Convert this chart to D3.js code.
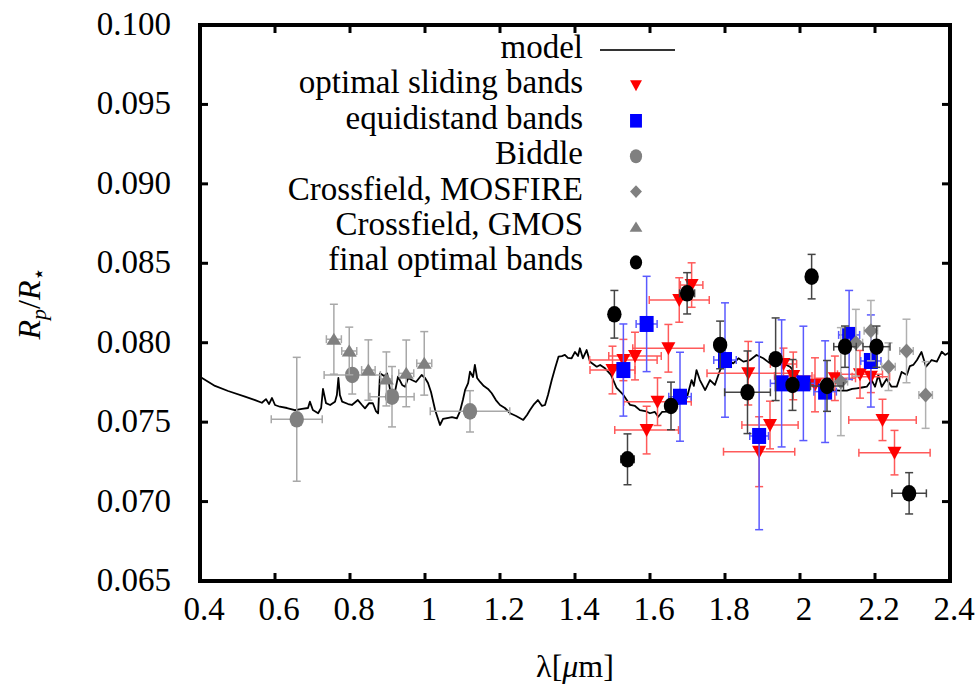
<!DOCTYPE html>
<html><head><meta charset="utf-8">
<script src="https://cdn.jsdelivr.net/npm/d3@7"></script>
<style>body{margin:0;background:#fff}svg{display:block}svg text{font-family:"Liberation Serif" !important}</style>
</head><body><svg id="c" width="978" height="685" style="font-family:'Liberation Serif'"></svg>
<script>
// ---- data ----
const xTicks = [0.4,0.6,0.8,1.0,1.2,1.4,1.6,1.8,2.0,2.2,2.4];
const yTicks = [0.065,0.070,0.075,0.080,0.085,0.090,0.095,0.100];
const seriesNames = ["model","optimal sliding bands","equidistand bands","Biddle","Crossfield, MOSFIRE","Crossfield, GMOS","final optimal bands"];
// model spectrum [lambda, Rp/Rs]
const model = [[0.400,0.07786],[0.440,0.07728],[0.475,0.07696],[0.520,0.0766],[0.547,0.07639],[0.565,0.07622],[0.576,0.07645],[0.584,0.07614],[0.592,0.07652],[0.600,0.07608],[0.613,0.07597],[0.632,0.07589],[0.653,0.07576],[0.672,0.07583],[0.688,0.07589],[0.693,0.07629],[0.701,0.07576],[0.715,0.07556],[0.723,0.07589],[0.728,0.07709],[0.736,0.0762],[0.747,0.07608],[0.760,0.07629],[0.765,0.07671],[0.769,0.07778],[0.773,0.07671],[0.779,0.07629],[0.795,0.07614],[0.805,0.07608],[0.821,0.07639],[0.832,0.07608],[0.840,0.07587],[0.851,0.0762],[0.861,0.07619],[0.869,0.0757],[0.875,0.07556],[0.880,0.07807],[0.891,0.0779],[0.899,0.07807],[0.907,0.07702],[0.920,0.07692],[0.928,0.07786],[0.939,0.07734],[0.947,0.07723],[0.955,0.07778],[0.965,0.07765],[0.976,0.07753],[0.991,0.07797],[1.000,0.07778],[1.008,0.07746],[1.016,0.0769],[1.027,0.07576],[1.040,0.07482],[1.048,0.0752],[1.059,0.07526],[1.072,0.07532],[1.085,0.07524],[1.093,0.07566],[1.101,0.07639],[1.107,0.07703],[1.115,0.07746],[1.120,0.07818],[1.128,0.07784],[1.133,0.0786],[1.139,0.07778],[1.147,0.07753],[1.157,0.07727],[1.168,0.07709],[1.178,0.07682],[1.189,0.07639],[1.200,0.07608],[1.213,0.07589],[1.227,0.07556],[1.243,0.07539],[1.262,0.07514],[1.272,0.07545],[1.280,0.07576],[1.291,0.07614],[1.301,0.07639],[1.312,0.07602],[1.320,0.07608],[1.328,0.07671],[1.338,0.07765],[1.347,0.07841],[1.356,0.07912],[1.365,0.07916],[1.373,0.07923],[1.381,0.07904],[1.391,0.07902],[1.400,0.07942],[1.408,0.07916],[1.413,0.07965],[1.421,0.07902],[1.431,0.07954],[1.440,0.0788],[1.448,0.07866],[1.458,0.07849],[1.467,0.0786],[1.480,0.07839],[1.496,0.07797],[1.511,0.07715],[1.529,0.07671],[1.547,0.07608],[1.560,0.07602],[1.573,0.07576],[1.587,0.0757],[1.600,0.07556],[1.613,0.07564],[1.622,0.07534],[1.632,0.07564],[1.645,0.07566],[1.658,0.07597],[1.669,0.07608],[1.680,0.07619],[1.698,0.0765],[1.711,0.07765],[1.717,0.07728],[1.724,0.07828],[1.733,0.07765],[1.747,0.07702],[1.760,0.07765],[1.773,0.07734],[1.787,0.07828],[1.796,0.0786],[1.813,0.07881],[1.822,0.0787],[1.836,0.07902],[1.849,0.07881],[1.867,0.07891],[1.884,0.07923],[1.902,0.07902],[1.920,0.0787],[1.936,0.07885],[1.956,0.0787],[1.973,0.07849],[1.991,0.07803],[2.003,0.07765],[2.018,0.07745],[2.035,0.07734],[2.053,0.07723],[2.072,0.07715],[2.089,0.07702],[2.107,0.07698],[2.125,0.07698],[2.139,0.07709],[2.151,0.07713],[2.165,0.07718],[2.178,0.07723],[2.191,0.07765],[2.200,0.07723],[2.209,0.07797],[2.218,0.07723],[2.231,0.07772],[2.244,0.07723],[2.258,0.07723],[2.271,0.07816],[2.285,0.07797],[2.293,0.07853],[2.302,0.0786],[2.312,0.07891],[2.324,0.07942],[2.336,0.07849],[2.351,0.07891],[2.365,0.07881],[2.378,0.07943],[2.387,0.07923],[2.400,0.07942]];
// [lambda, value, lambda error, value error]
const slidingBands = [[1.500,0.07828,0.06,0.0015],[1.529,0.07891,0.09,0.0013],[1.560,0.07916,0.07,0.0015],[1.591,0.07450,0.085,0.0015],[1.620,0.07629,0.09,0.0015],[1.649,0.07965,0.095,0.0015],[1.678,0.08269,0.08,0.0014],[1.711,0.08363,0.03,0.0014],[1.862,0.07808,0.11,0.0020],[1.891,0.07314,0.095,0.0022],[1.920,0.07482,0.075,0.0015],[1.956,0.07866,0.035,0.0010],[1.982,0.07791,0.05,0.0015],[2.040,0.07735,0.03,0.0017],[2.093,0.07776,0.055,0.0014],[2.160,0.07801,0.06,0.0015],[2.189,0.07786,0.05,0.0010],[2.220,0.07514,0.09,0.0013],[2.252,0.07308,0.095,0.0014]];
const equidistandBands = [[1.529,0.07828,0.012,0.0029],[1.591,0.08118,0.028,0.0030],[1.680,0.07660,0.03,0.0028],[1.800,0.07891,0.03,0.0036],[1.891,0.07413,0.025,0.0059],[1.951,0.07744,0.03,0.0040],[2.009,0.07744,0.03,0.0036],[2.067,0.07692,0.03,0.0032],[2.131,0.08049,0.028,0.0028],[2.189,0.07885,0.027,0.0029]];
const biddle = [[0.658,0.07518,0.068,0.0039],[0.806,0.07797,0.075,0.0012],[0.912,0.07660,0.059,0.0019],[1.120,0.07568,0.106,0.0013]];
const mosfire = [[2.109,0.07755,0.018,0.0034],[2.149,0.08000,0.018,0.0021],[2.189,0.08076,0.018,0.0019],[2.236,0.07849,0.018,0.0015],[2.284,0.07948,0.018,0.0020],[2.335,0.07671,0.018,0.0021]];
const gmos = [[0.757,0.08022,0.02,0.0022],[0.798,0.07948,0.02,0.0015],[0.849,0.07828,0.018,0.0019],[0.897,0.07772,0.015,0.0017],[0.950,0.07807,0.02,0.0021],[0.998,0.07870,0.02,0.0020]];
const finalBands = [[1.505,0.08179,0.008,0.0015],[1.540,0.07266,0.018,0.0016],[1.656,0.07602,0.01,0.0015],[1.699,0.08311,0.02,0.0013],[1.787,0.07986,0.01,0.0015],[1.860,0.07688,0.061,0.0026],[1.935,0.07896,0.01,0.0026],[1.980,0.07734,0.01,0.0016],[2.031,0.08416,0.01,0.0014],[2.072,0.07728,0.044,0.0016],[2.120,0.07975,0.03,0.0013],[2.204,0.07975,0.036,0.0013],[2.291,0.07052,0.046,0.0013]];

// ---- drawing ----
const FONT = '"Liberation Serif"';
const svg = d3.select("#c");
const L = 200, R = 950, T = 25, B = 581;
const x = d3.scaleLinear().domain([0.4,2.4]).range([L,R]);
const y = d3.scaleLinear().domain([0.065,0.100]).range([B,T]);
function txt(sel){ return sel.style("font-family", FONT, "important").attr("font-family","Liberation Serif"); }

// model line
svg.append("path").datum(model)
  .attr("d", d3.line().x(d=>x(d[0])).y(d=>y(d[1])))
  .attr("fill","none").attr("stroke","#000").attr("stroke-width",1.8).attr("stroke-linejoin","round");

function shape(g, type, cx, cy, fill, s) {
  s = s || 1;
  if (type === "down") g.append("path").attr("d",`M${cx-7*s},${cy-6*s}L${cx+7*s},${cy-6*s}L${cx},${cy+7*s}Z`).attr("fill",fill);
  else if (type === "up") g.append("path").attr("d",`M${cx-7.5*s},${cy+5.5*s}L${cx+7.5*s},${cy+5.5*s}L${cx},${cy-6.5*s}Z`).attr("fill",fill);
  else if (type === "square") g.append("rect").attr("x",cx-7*s).attr("y",cy-8*s).attr("width",14*s).attr("height",16*s).attr("fill",fill);
  else if (type === "circle") g.append("ellipse").attr("cx",cx).attr("cy",cy).attr("rx",7.2*s).attr("ry",8.3*s).attr("fill",fill);
  else if (type === "diamond") g.append("path").attr("d",`M${cx},${cy-7.5*s}L${cx+7*s},${cy}L${cx},${cy+7.5*s}L${cx-7*s},${cy}Z`).attr("fill",fill);
}

function series(data, type, fill, errColor) {
  const g = svg.append("g");
  const cap = 4;
  data.forEach(d => {
    const cx = x(d[0]), cy = y(d[1]);
    const x0 = x(d[0]-d[2]), x1 = x(d[0]+d[2]);
    const y0 = y(d[1]-d[3]), y1 = y(d[1]+d[3]);
    const e = g.append("g").attr("stroke",errColor).attr("stroke-width",1.5).attr("fill","none");
    e.append("line").attr("x1",cx).attr("x2",cx).attr("y1",y0).attr("y2",y1);
    e.append("line").attr("x1",cx-cap).attr("x2",cx+cap).attr("y1",y0).attr("y2",y0);
    e.append("line").attr("x1",cx-cap).attr("x2",cx+cap).attr("y1",y1).attr("y2",y1);
    e.append("line").attr("x1",x0).attr("x2",x1).attr("y1",cy).attr("y2",cy);
    e.append("line").attr("x1",x0).attr("x2",x0).attr("y1",cy-cap).attr("y2",cy+cap);
    e.append("line").attr("x1",x1).attr("x2",x1).attr("y1",cy-cap).attr("y2",cy+cap);
  });
  data.forEach(d => shape(g, type, x(d[0]), y(d[1]), fill));
}
series(slidingBands, "down", "#ff0000", "#ff5a5a");
series(equidistandBands, "square", "#0000ff", "#5a5aff");
series(biddle, "circle", "#808080", "#a8a8a8");
series(mosfire, "diamond", "#808080", "#b0b0b0");
series(gmos, "up", "#808080", "#a8a8a8");
series(finalBands, "circle", "#000000", "#444444");

// frame
svg.append("rect").attr("x",L).attr("y",T).attr("width",R-L).attr("height",B-T)
  .attr("fill","none").attr("stroke","#000").attr("stroke-width",4);
const tl = 8;
const tg = svg.append("g").attr("stroke","#000").attr("stroke-width",3);
xTicks.slice(1,-1).forEach(t => {
  tg.append("line").attr("x1",x(t)).attr("x2",x(t)).attr("y1",B).attr("y2",B-tl);
  tg.append("line").attr("x1",x(t)).attr("x2",x(t)).attr("y1",T).attr("y2",T+tl);
});
yTicks.slice(1,-1).forEach(t => {
  tg.append("line").attr("x1",L).attr("x2",L+tl).attr("y1",y(t)).attr("y2",y(t));
  tg.append("line").attr("x1",R).attr("x2",R-tl).attr("y1",y(t)).attr("y2",y(t));
});
// tick labels
const fmtX = d3.format("~g");
txt(svg.append("g").selectAll("text").data(xTicks).join("text")
  .attr("x",d=>x(d)+4).attr("y",620).attr("text-anchor","middle")
  .attr("font-size",33).attr("fill","#000"))
  .text(d=>fmtX(d));
txt(svg.append("g").selectAll("text").data(yTicks).join("text")
  .attr("x",171).attr("y",d=>y(d)+10).attr("text-anchor","end")
  .attr("font-size",33).attr("fill","#000"))
  .text(d=>d.toFixed(3));

// axis titles
const xl = txt(svg.append("text").attr("x",575).attr("y",677).attr("text-anchor","middle")
  .attr("font-size",32).attr("fill","#000"));
xl.append("tspan").text("λ[");
xl.append("tspan").attr("font-style","italic").text("μ");
xl.append("tspan").text("m]");
const yl = txt(svg.append("text").attr("transform","translate(40,303) rotate(-90)").attr("text-anchor","middle")
  .attr("font-size",32).attr("fill","#000"));
yl.append("tspan").attr("font-style","italic").text("R");
yl.append("tspan").attr("font-style","italic").attr("font-size",22).attr("dy",6).text("p");
yl.append("tspan").attr("dy",-6).text("/");
yl.append("tspan").attr("font-style","italic").text("R");
yl.append("tspan").attr("font-size",22).attr("dy",6).text("⋆");

// legend
const legTypes = [null,"down","square","circle","diamond","up","circle"];
const legFill = [null,"#ff0000","#0000ff","#808080","#808080","#808080","#000000"];
const lg = svg.append("g");
seriesNames.forEach((n,i) => {
  const ly = 48 + i*35.4;
  txt(lg.append("text").attr("x",583).attr("y",ly+10).attr("text-anchor","end")
    .attr("font-size",33).attr("fill","#000")).text(n);
  if (i === 0) lg.append("line").attr("x1",600).attr("x2",675).attr("y1",ly+2).attr("y2",ly+2).attr("stroke","#333").attr("stroke-width",2);
  else shape(lg, legTypes[i], 636, ly+2, legFill[i], 0.85);
});
</script></body></html>
